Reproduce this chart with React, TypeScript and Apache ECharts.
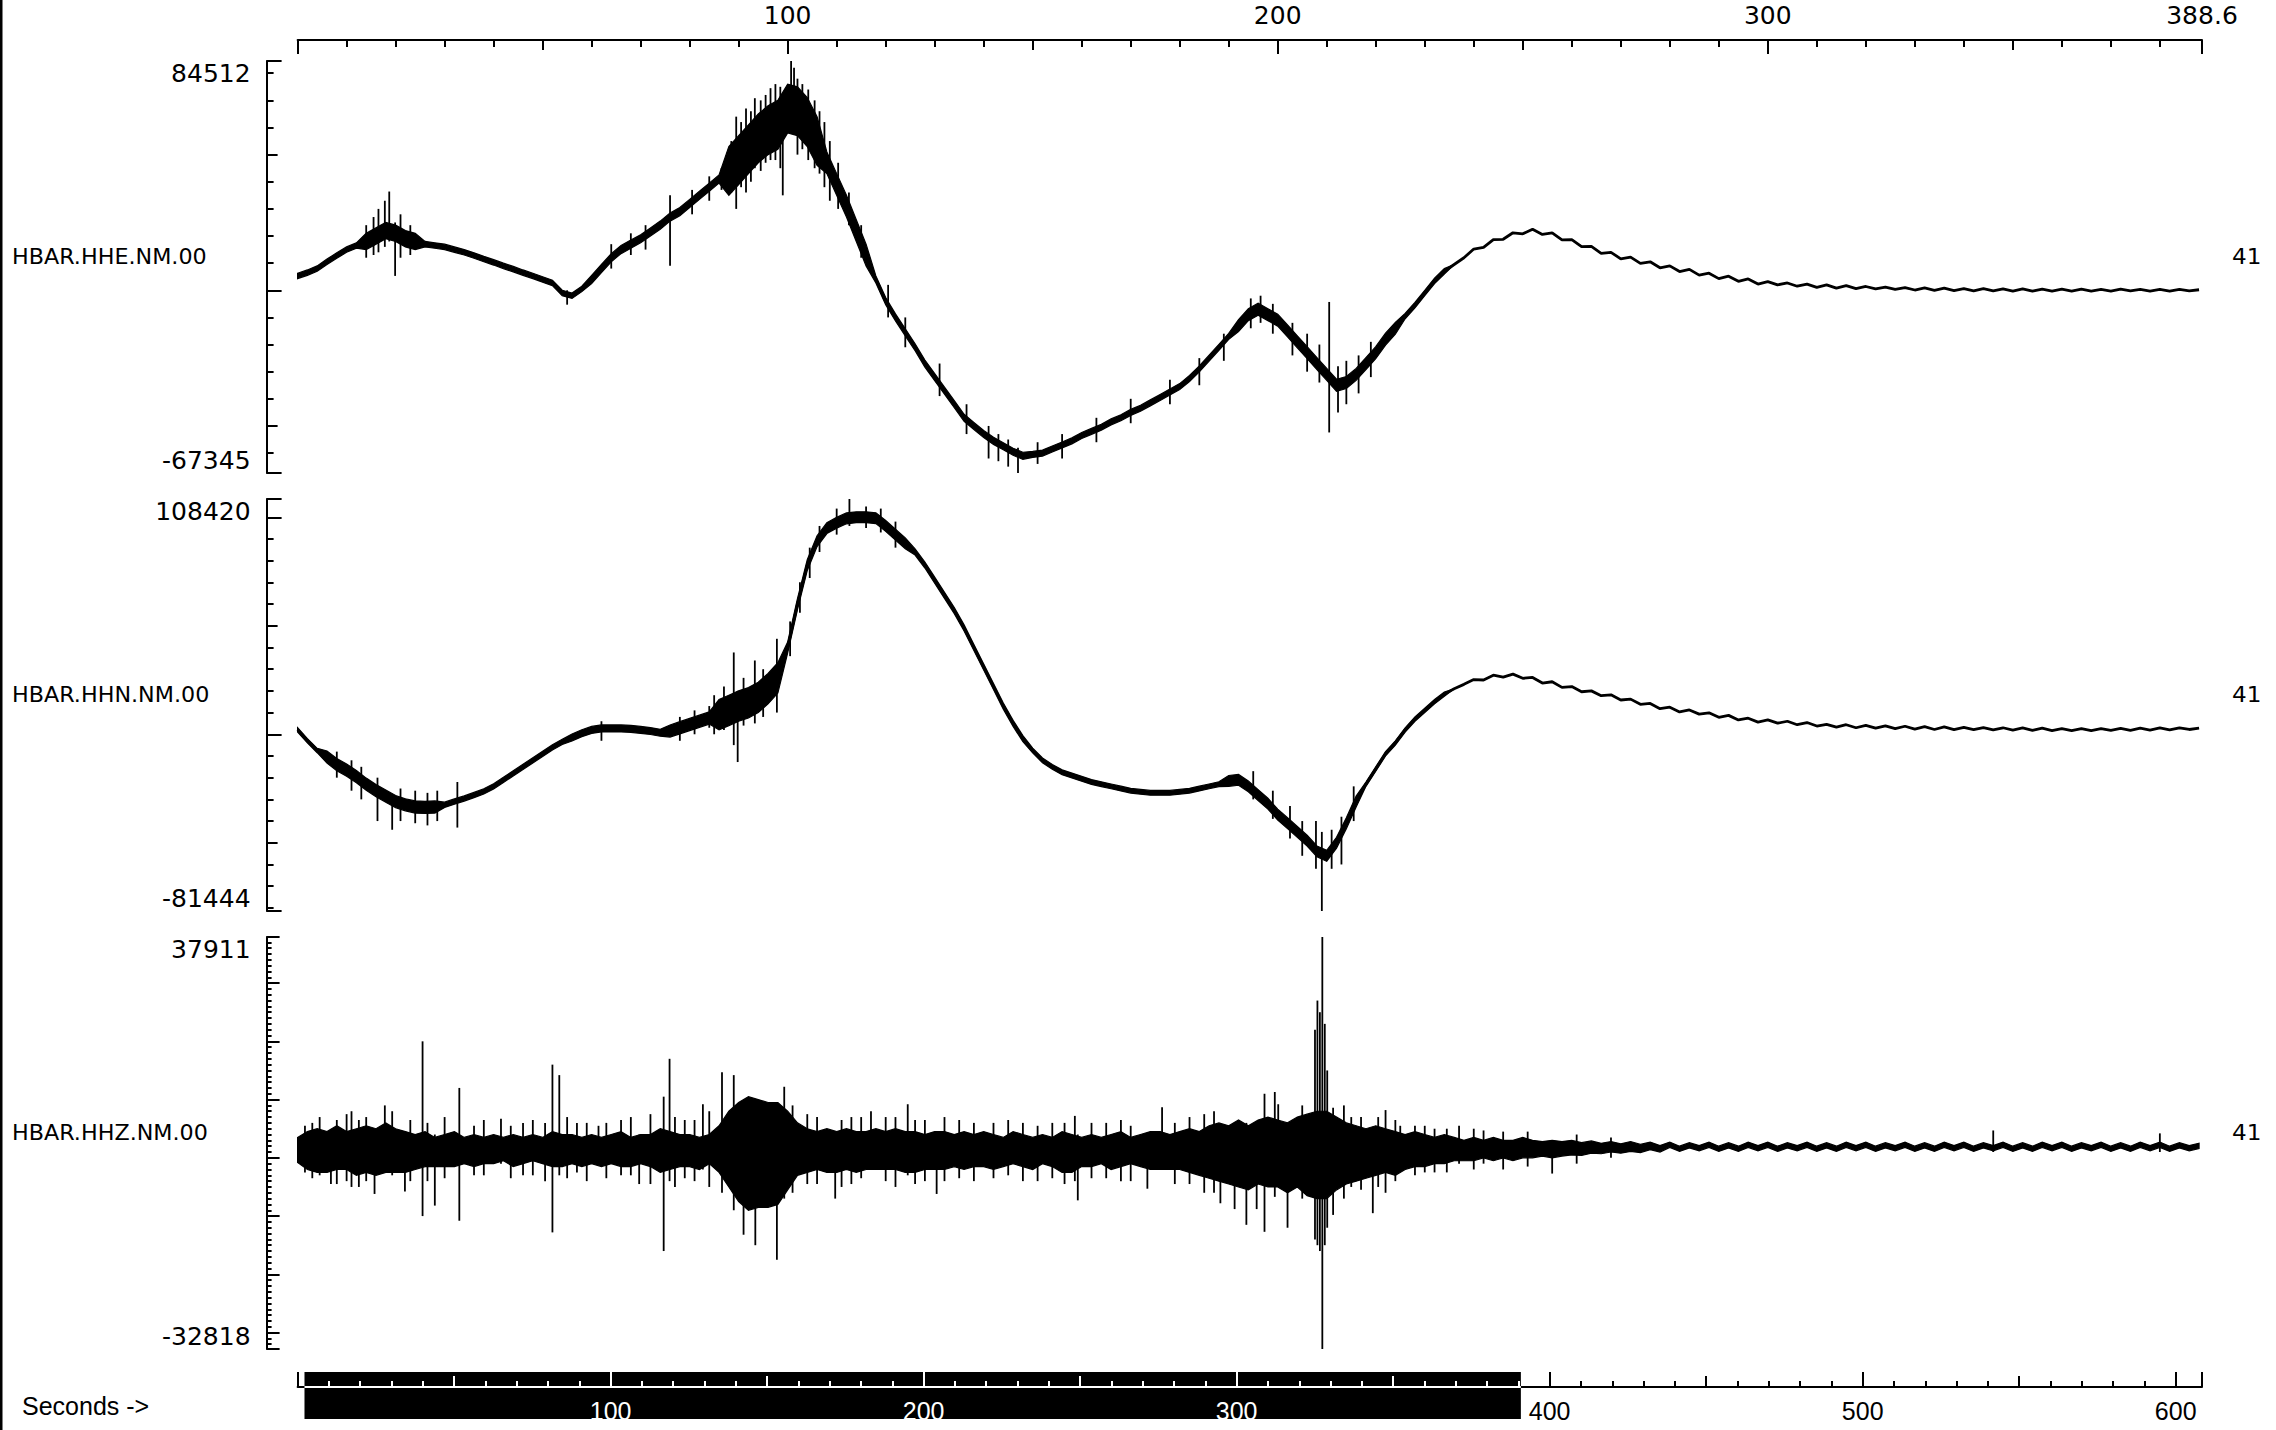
import React, { useEffect, useRef } from "react";
import * as echarts from "echarts";

// ---------------- data ----------------
const CHANNEL_NAMES = ["HBAR.HHE.NM.00", "HBAR.HHN.NM.00", "HBAR.HHZ.NM.00"];
const CHANNEL_TAGS = ["41", "41", "41"];
const PANEL_MAX = [84512, 108420, 37911];
const PANEL_MIN = [-67345, -81444, -32818];
const WINDOW_LENGTH_S = 388.6;
const RECORD_LENGTH_S = 608.4;
const WINDOW_START_S = 2.2;
const WINDOW_END_S = 390.8;
const TOP_AXIS_LABELS = [100, 200, 300, 388.6];
const SECONDS_LABELS_IN_WINDOW = [100, 200, 300];
const SECONDS_LABELS_OUTSIDE = [400, 500, 600];
const SECONDS_TITLE = "Seconds ->";
const SAMPLE_STEP_S = 2; // traces below are read every 2 s, 0 .. 388 s
const COUNTS_PER_UNIT = 1000; // trace values are in thousands of counts

// HHE trace centre line
const hheMid = [
  5.3, 6.5, 8, 10.5, 12.8, 15, 16.5, 18, 20, 22,
  21, 19, 18, 17, 16.5, 16, 15, 14, 12.8, 11.5,
  10.3, 9, 7.8, 6.5, 5.3, 4, 2.7, -1, -2, 0.5,
  4, 8, 12, 15, 17, 19, 21.5, 24, 27, 29,
  32, 35, 38, 41, 44, 48, 52, 56, 59, 61,
  67, 66, 62, 55, 47, 39, 31, 22, 13, 4,
  -4, -10, -15.5, -21, -27, -32, -37, -42, -47, -50,
  -53, -55.5, -57.5, -59.5, -61, -60.5, -60, -58.5, -57, -55.5,
  -53.5, -52, -50.5, -48.5, -47, -45, -43.5, -41.5, -39.5, -37.5,
  -35.5, -32.5, -29, -25, -21, -17, -13, -9, -7, -9,
  -11, -15, -19, -23, -27, -31, -35, -34, -31, -27,
  -23, -18, -14, -9.5, -5.5, -1, 3.5, 7, 9.5, 12,
  15.2, 15.8, 18.7, 18.8, 21.2, 20.8, 22.5, 20.6, 21.2, 18.6,
  18.7, 16.1, 16.2, 13.6, 14, 11.6, 12.2, 9.9, 10.5, 8.3,
  9, 6.9, 7.7, 5.6, 6.3, 4.3, 5.2, 3.3, 4.2, 2.3,
  3.2, 2, 2.7, 1.5, 2.3, 1.1, 2, 0.8, 1.7, 0.6,
  1.4, 0.5, 1.2, 0.3, 1, 0.1, 0.9, 0, 0.8, -0.1,
  0.6, -0.2, 0.6, -0.2, 0.5, -0.3, 0.5, -0.3, 0.4, -0.3,
  0.4, -0.3, 0.4, -0.3, 0.3, -0.3, 0.4, -0.2, 0.3, -0.3,
  0.3, -0.3, 0.3, -0.2, 0.2,
];
// HHE noise half-width per time span [start s, end s, half-width]
const hheNoise = [
  [0, 13, 1], [13, 25, 3], [25, 60, 1], [60, 88, 1.5], [88, 108, 9],
  [108, 118, 4], [118, 150, 1.3], [150, 192, 1.1], [192, 226, 2.2], [226, 236, 1], [236, 390, 0],
];
// HHE isolated spikes [s, top, bottom]
const hheSpikes = [
  [14, 24, 12], [15.5, 27, 13], [16.5, 30, 14], [17.8, 33, 16], [18.7, 36.4, 18], [19.9, 25, 5.3],
  [21, 28, 12], [23, 24, 13], [55, 0, -5.3], [64, 17, 8], [68, 21, 13], [71, 24, 15], [76, 35, 9],
  [80.5, 37, 28], [84, 42, 33], [86.5, 45, 37], [88.5, 55, 36], [89.5, 64, 30], [90.5, 62, 38],
  [91.5, 67, 36], [92.5, 66, 40], [93.3, 70.8, 45], [94.5, 70, 44], [95.5, 72, 47], [96.5, 74.5, 48],
  [97.5, 76, 48], [98.5, 75, 45], [99, 70, 35], [100.7, 84.512, 60], [101.3, 82, 58], [102, 78, 50],
  [103, 76, 52], [104.2, 74, 48], [105.5, 70, 45], [106.5, 66, 43], [107.5, 62, 38], [108.6, 55, 33],
  [110.3, 47, 30], [112.5, 36, 24], [115, 24, 12], [120.5, 2, -10], [124, -10, -21], [131, -27, -39],
  [136.5, -42, -53], [141, -50, -62], [143, -53, -63], [145, -55, -65], [147, -58, -67.345], [151, -56, -64],
  [156, -53, -62], [163, -47, -56], [170, -40, -49], [178, -33, -42], [184, -25, -35], [189, -16, -26],
  [194.5, -3, -14], [196.5, -2, -12], [199, -5, -16], [203, -12, -24], [206, -16, -30], [208.5, -20, -34],
  [210.5, -4.3, -52.4], [212.3, -28, -45], [214, -26, -42], [216.5, -24, -38], [219, -19, -32],
];

// HHN trace centre line
const hhnMid = [
  2, -3, -7.5, -10.5, -14, -16.5, -19.5, -23, -26, -28.5,
  -31, -32.5, -33.5, -33.7, -33.5, -32.5, -31, -29.6, -28, -26.3,
  -24, -21, -18, -15, -12, -9, -6, -3.5, -1.5, 0.5,
  2, 2.7, 2.7, 2.7, 2.5, 2, 1.5, 0.7, 1.5, 3,
  4.5, 6, 7.5, 9, 11, 13, 14.5, 17, 21, 26,
  40, 60, 78, 89, 95, 97.5, 99.5, 100, 100, 99.6,
  96, 92, 88, 84, 78, 71, 64, 57, 49, 40,
  31, 22, 13, 5, -2, -7.5, -12, -15, -17.5, -19,
  -20.5, -22, -23, -24, -25, -26, -26.5, -27, -27, -27,
  -26.5, -26, -25, -24, -23, -21.5, -21, -24, -28, -32,
  -37, -41, -45, -49, -54, -56, -50, -41, -31, -23,
  -16, -9, -4, 2, 7, 11, 15, 18.5, 21, 23,
  25.2, 25, 27.2, 26.3, 27.7, 25.8, 26.2, 23.6, 24.2, 21.6,
  22, 19.6, 20, 17.8, 18.2, 15.8, 16.2, 13.8, 14.2, 11.8,
  12.5, 10.3, 11.2, 9.3, 9.9, 7.8, 8.7, 6.6, 7.4, 5.6,
  6.6, 5.1, 6, 4.4, 5.4, 3.8, 4.6, 3.3, 4.4, 3,
  4.1, 2.8, 3.9, 2.6, 3.7, 2.4, 3.5, 2.2, 3.4, 2.1,
  3.2, 2.1, 3.1, 2, 3, 1.9, 2.9, 1.8, 2.8, 1.7,
  2.6, 1.7, 2.6, 1.7, 2.6, 1.8, 2.7, 1.8, 2.8, 1.9,
  2.9, 2, 3, 2.2, 2.8,
];
const hhnNoise = [
  [0, 6, 1], [6, 30, 2.8], [30, 56, 1.2], [56, 76, 1.6], [76, 86, 2.8], [86, 100, 7],
  [100, 126, 2.5], [126, 150, 1.4], [150, 190, 1.1], [190, 218, 2.5], [218, 236, 1], [236, 390, 0],
];
const hhnSpikes = [
  [8, -8, -20], [11, -12, -26], [13, -15, -30], [16.3, -20, -40], [19.3, -28, -44], [21, -25, -40],
  [24, -26, -41], [26.5, -27, -42], [28.5, -26, -40], [32.6, -22, -43], [62, 6, -3],
  [78, 8, -3], [81, 11, 0], [84, 13, 3], [85, 18, 0], [87, 22, 2], [89, 37.7, -5], [89.8, 20, -12.8],
  [91, 26, 4], [93.3, 34, 5], [95, 30, 8], [97.8, 44, 10], [100.5, 52, 36], [102.5, 70, 56],
  [104.5, 86, 72], [106.5, 96, 84], [110, 104, 92], [112.6, 108.42, 96], [116, 105, 95], [119, 104, 93],
  [122, 98, 86], [195, -17, -30], [199, -26, -39], [202.5, -33, -48], [205, -40, -56], [207.8, -40, -62],
  [209, -45, -81.444], [211, -44, -62], [213, -38, -60], [215.5, -24, -40],
];

// HHZ envelope (upper / lower), every 2 s
const hhzUpper = [
  3.5, 4.5, 5, 4.5, 5.5, 4.5, 5, 5.5, 5, 6,
  5, 4.5, 4, 4.5, 3.5, 4, 4.5, 3.5, 4, 3.5,
  4, 3.5, 4, 3.5, 4, 3.5, 4.5, 4, 4, 3.5,
  4, 3.5, 4, 4.5, 3.5, 4, 4, 5, 4.5, 4,
  4, 3.5, 4, 5.5, 8, 9.5, 10.5, 10, 9.5, 9.5,
  8, 6, 5, 4.5, 5, 4.5, 5, 4.5, 4.5, 5,
  4.5, 5, 4.5, 4.5, 4, 4.5, 4.5, 4, 4.5, 4,
  4.5, 4, 3.5, 4.5, 4, 3.5, 4, 3.5, 4.5, 4,
  3.5, 4, 3.5, 4, 4.5, 3.5, 4, 4.5, 4.5, 4,
  4.5, 5, 4.5, 5.5, 6, 5.5, 6.5, 5.5, 6.5, 7,
  6.5, 6, 7, 7.5, 8, 8, 7, 6, 5.5, 5,
  5.5, 5, 4.5, 4, 4.5, 4, 3.5, 4, 3.5, 3,
  3.5, 3, 3.5, 3, 3, 3.5, 3, 2.8, 3, 2.8,
  3, 2.6, 2.9, 2.5, 2.8, 2.4, 2.8, 2.3, 2.7, 2.1,
  2.7, 2, 2.6, 2.1, 2.7, 2, 2.6, 2, 2.7, 2.1,
  2.7, 2, 2.6, 2.1, 2.7, 2, 2.6, 2, 2.7, 2.1,
  2.7, 2, 2.6, 2.1, 2.7, 2, 2.6, 2, 2.7, 2.1,
  2.7, 2, 2.6, 2.1, 2.7, 2, 2.6, 2, 2.7, 2.1,
  2.7, 2, 2.6, 2.1, 2.7, 2, 2.6, 2, 2.7, 2.1,
  2.7, 2, 2.6, 2.1, 2.5,
];
const hhzLower = [
  -0.8, -2, -2.5, -2.5, -2, -2, -3, -2.5, -3, -2.5,
  -2.5, -2.5, -2, -1.5, -1.5, -1.5, -1.5, -1, -1.5, -1,
  -1, -0.5, -1.5, -1, -0.5, -1, -1.5, -1.5, -1, -1.5,
  -1, -1.5, -1, -1.5, -1.5, -1, -1.5, -2.5, -2, -1.5,
  -1.5, -2, -1, -2.5, -5, -7.5, -9, -8.5, -8.5, -8,
  -5.5, -3, -2.5, -2, -2.5, -2.5, -2, -2.5, -2, -2,
  -2, -2, -2.5, -2.5, -2, -2, -2, -1.5, -2, -1.5,
  -1.5, -2, -1.5, -1, -1.5, -2, -1, -1.5, -2.5, -2.5,
  -1.5, -1.5, -1, -2, -1.5, -1, -1.5, -2, -2, -2,
  -2, -2.5, -3, -3.5, -4, -4.5, -5, -5.5, -4.5, -5,
  -5, -6, -5, -6.5, -7, -7, -5.5, -4.5, -4, -3.5,
  -3, -2.5, -3, -2, -1.5, -1.5, -1, -1, -0.5, -0.5,
  -0.5, 0, -0.5, 0, -0.5, 0, 0, 0.3, 0, 0.3,
  0.5, 0.4, 0.8, 0.7, 1, 0.8, 1.1, 0.9, 1.4, 1,
  1.8, 1.1, 1.7, 1.2, 1.8, 1.1, 1.7, 1.1, 1.8, 1.2,
  1.8, 1.1, 1.7, 1.2, 1.8, 1.1, 1.7, 1.1, 1.8, 1.2,
  1.8, 1.1, 1.7, 1.2, 1.8, 1.1, 1.7, 1.1, 1.8, 1.2,
  1.8, 1.1, 1.7, 1.2, 1.8, 1.1, 1.7, 1.1, 1.8, 1.2,
  1.8, 1.1, 1.7, 1.2, 1.8, 1.1, 1.7, 1.1, 1.8, 1.2,
  1.8, 1.1, 1.7, 1.2, 1.6,
];
const hhzSpikes = [
  [1.5, 5.5, -2.5], [3, 6, -3.5], [4.5, 7, -3], [6.8, 3, -4.5], [8, 6.5, -4.5], [10, 7.5, -4],
  [11, 8, -5], [12.5, 6.5, -5], [14, 7, -4], [15.7, 5, -6.2], [17.8, 9, -2], [19.3, 8, -3],
  [21.9, 4, -5.8], [23, 6.5, -4], [25.5, 20, -10], [26.5, 6, -4], [28, 4, -8.2], [30, 7, -3.5],
  [33, 12, -10.8], [36, 5.5, -3], [38, 6.5, -3], [41.5, 6.7, -1], [43.5, 5.5, -3.5], [46, 6, -3],
  [48, 6.5, -3], [50.5, 6, -4], [52, 16, -12.8], [53.4, 14.2, -3], [55, 7, -3.5], [57, 6, -2.5],
  [59, 6, -4], [61.4, 5.5, -1], [63, 6, -3.5], [66, 6.5, -3], [68, 7, -3], [69.7, 4, -4.5],
  [72, 7.5, -4.5], [74.7, 10.5, -16], [75.9, 17, -4], [77, 7, -5], [79, 6.5, -3.5], [81, 6.5, -4],
  [82.7, 9.2, -2], [84, 8, -5], [86.6, 14.7, -6], [89, 14.2, -9], [91, 8, -13.2], [93.4, 10, -15],
  [97.8, 8, -17.5], [99.3, 12.2, -7], [101, 9, -6], [104, 7.5, -4.5], [106, 7, -4.5], [109.7, 4, -7],
  [111, 6.5, -5], [113, 7, -4.5], [115, 7, -3.5], [117, 8, -2], [120, 7, -4], [122, 7, -5],
  [124.5, 9.2, -3], [126, 6.5, -4.5], [128, 6.5, -4], [130.4, 4, -6.2], [132, 7, -4], [135, 6.5, -3.5],
  [138, 6, -4], [142, 6, -3.5], [145, 6.5, -3], [148, 6, -4], [151, 5.5, -4], [154, 6, -3.5],
  [156.5, 6, -4.5], [158.6, 7.2, -4], [159.2, 4, -7.3], [162, 6, -3.5], [165, 6, -3.5], [168, 6.5, -4],
  [170, 5.5, -4], [173.4, 4, -5.3], [176.4, 8.7, -2], [179, 6, -4.5], [182, 7, -4.5], [185, 7.5, -6],
  [187, 8, -6], [188.3, 5, -7.8], [191.2, 6, -8.8], [193.6, 6, -11.5], [195.7, 6, -8.8],
  [197.3, 11, -12.7], [199.4, 11.3, -6.7], [200.1, 9.2, -4], [202, 6, -12], [205, 9, -7],
  [207.6, 22, -14], [208.1, 27, -15], [208.6, 25, -16], [209.1, 37.911, -32.818], [209.6, 23, -15],
  [210.1, 15, -12], [211.3, 8.6, -9.8], [213.5, 9, -7], [215, 7, -5], [217, 7, -5.5], [219.4, 4, -9.5],
  [220.5, 7, -5], [222, 8.2, -6], [224, 6.5, -4], [225, 5.5, -2], [228, 5.5, -3], [230, 5.5, -2.5],
  [232, 5, -2.5], [234.5, 5, -2.5], [237, 5.5, -1], [240, 5, -2], [242, 4.7, -1], [246, 4.5, -2],
  [251, 4.5, -1.5], [256, 3, -2.7], [261, 4, -1], [268, 3.5, 0], [346, 4.7, 1], [380, 4.2, 1],
];

// ---------------- layout / style ----------------
const W = 2276;
const H = 1430;
const PLOT_LEFT = 297.6;
const PLOT_WIDTH = 1904.4;
const PANEL_TOPS = [61, 499, 937];
const PANEL_HEIGHT = 412;
const Y_AXIS_OFFSET = 31;
const TOP_AXIS_OFFSET = 21;
const SEC_GRID_TOP = 1372;
const SEC_GRID_HEIGHT = 15;
const BAR_DEPTH = 47;
const NUM_FONT = "DejaVu Sans";
const SEC_FONT = "Liberation Sans";

const multiples = (min: number, max: number, step: number) => {
  const out: number[] = [];
  for (let v = Math.ceil(min / step) * step; v <= max + 1e-9; v += step) out.push(Math.round(v * 1000) / 1000);
  return out;
};
const notMultipleOf = (list: number[], step: number) =>
  list.filter((v) => Math.abs(v / step - Math.round(v / step)) > 1e-6);

const spreadAt = (t: number, segs: number[][]) => {
  for (const [a, b, h] of segs) if (t >= a && t < b) return h;
  return 0;
};

function buildTrace(mid: number[], segs: number[][]) {
  const upper: number[][] = [];
  const lower: number[][] = [];
  const line: number[][] = [];
  mid.forEach((v, i) => {
    const t = i * SAMPLE_STEP_S;
    const h = spreadAt(t, segs);
    line.push([t, v * COUNTS_PER_UNIT]);
    upper.push([t, (v + h) * COUNTS_PER_UNIT]);
    lower.push([t, (v - h) * COUNTS_PER_UNIT]);
  });
  return { line, upper, lower };
}

function bandSeries(xi: number, yi: number, upper: number[][], lower: number[][]) {
  return {
    type: "custom",
    xAxisIndex: xi,
    yAxisIndex: yi,
    silent: true,
    z: 3,
    data: [[upper[0][0], upper[0][1]]],
    renderItem: (_p: any, api: any) => {
      const pts: number[][] = [];
      for (let i = 0; i < upper.length; i++) pts.push(api.coord(upper[i]));
      for (let i = lower.length - 1; i >= 0; i--) pts.push(api.coord(lower[i]));
      return { type: "polygon", shape: { points: pts }, style: { fill: "#000", stroke: "#000", lineWidth: 1.2 } };
    },
  };
}

function spikeSeries(xi: number, yi: number, spikes: number[][]) {
  return {
    type: "custom",
    xAxisIndex: xi,
    yAxisIndex: yi,
    silent: true,
    z: 4,
    encode: { x: 0, y: [1, 2] },
    data: spikes.map(([t, a, b]) => [t, a * COUNTS_PER_UNIT, b * COUNTS_PER_UNIT]),
    renderItem: (_p: any, api: any) => {
      const t = api.value(0);
      const p1 = api.coord([t, api.value(1)]);
      const p2 = api.coord([t, api.value(2)]);
      return { type: "line", shape: { x1: p1[0], y1: p1[1], x2: p2[0], y2: p2[1] }, style: { stroke: "#000", lineWidth: 1.8 } };
    },
  };
}

function lineSeries(xi: number, yi: number, data: number[][]) {
  return {
    type: "line",
    xAxisIndex: xi,
    yAxisIndex: yi,
    data,
    symbol: "none",
    silent: true,
    z: 4,
    lineStyle: { color: "#000", width: 2.8 },
  };
}

function xAx(o: any) {
  return {
    type: "value",
    gridIndex: o.grid,
    min: o.min,
    max: o.max,
    position: o.position,
    offset: o.offset || 0,
    z: o.z || 0,
    show: o.show !== false,
    splitLine: { show: false },
    axisLine: { show: !!o.line, onZero: false, lineStyle: { color: o.color, width: 2 } },
    axisTick: o.ticks
      ? { show: true, inside: true, length: o.len, customValues: o.ticks, lineStyle: { color: o.color, width: 2 } }
      : { show: false },
    axisLabel: o.labels
      ? {
          show: true,
          customValues: o.labels,
          color: o.color,
          fontSize: o.fontSize || 24,
          fontFamily: o.font,
          margin: o.margin,
          showMinLabel: true,
          showMaxLabel: true,
          formatter: (v: number) => String(v),
        }
      : { show: false },
  };
}

function yAx(o: any) {
  return {
    type: "value",
    gridIndex: o.grid,
    min: o.min,
    max: o.max,
    position: "left",
    offset: Y_AXIS_OFFSET,
    splitLine: { show: false },
    axisLine: { show: !!o.line, onZero: false, lineStyle: { color: "#000", width: 2 } },
    axisTick: o.ticks && o.ticks.length
      ? { show: true, inside: true, length: o.len, customValues: o.ticks, lineStyle: { color: "#000", width: 2 } }
      : { show: false },
    axisLabel: o.labels
      ? {
          show: true,
          customValues: o.labels,
          color: "#000",
          fontSize: 25,
          fontFamily: NUM_FONT,
          margin: 16,
          verticalAlign: o.valign,
          showMinLabel: true,
          showMaxLabel: true,
          formatter: (v: number) => String(Math.round(v)),
        }
      : { show: false },
  };
}

const PANEL_TICK_STEPS = [
  [10000, 50000, 100000],
  [10000, 50000, 100000],
  [1000, 0, 10000],
];
const PANEL_TICK_LENGTHS = [
  [7, 11, 15],
  [7, 11, 15],
  [5, 0, 13],
];

function buildOption() {
  const grids: any[] = PANEL_TOPS.map((top) => ({ left: PLOT_LEFT, width: PLOT_WIDTH, top, height: PANEL_HEIGHT }));
  grids.push({ left: PLOT_LEFT, width: PLOT_WIDTH, top: SEC_GRID_TOP, height: SEC_GRID_HEIGHT });

  // --- x axes ---
  const topAll = multiples(0, WINDOW_LENGTH_S, 10);
  const xAxes: any[] = [
    xAx({ grid: 0, min: 0, max: WINDOW_LENGTH_S, position: "top", offset: TOP_AXIS_OFFSET, color: "#000", line: true, ticks: notMultipleOf(topAll, 50), len: 7 }),
    xAx({ grid: 0, min: 0, max: WINDOW_LENGTH_S, position: "top", offset: TOP_AXIS_OFFSET, color: "#000", ticks: notMultipleOf(multiples(0, WINDOW_LENGTH_S, 50), 100), len: 10 }),
    xAx({ grid: 0, min: 0, max: WINDOW_LENGTH_S, position: "top", offset: TOP_AXIS_OFFSET, color: "#000", ticks: [...multiples(0, WINDOW_LENGTH_S, 100), WINDOW_LENGTH_S], len: 14, labels: TOP_AXIS_LABELS, font: NUM_FONT, margin: 12, fontSize: 25 }),
    xAx({ grid: 1, min: 0, max: WINDOW_LENGTH_S, position: "bottom", show: false, color: "#000" }),
    xAx({ grid: 2, min: 0, max: WINDOW_LENGTH_S, position: "bottom", show: false, color: "#000" }),
  ];
  const secAll = multiples(0, RECORD_LENGTH_S, 10);
  const inWin = (v: number) => v > WINDOW_START_S && v < WINDOW_END_S;
  const secMinor = notMultipleOf(secAll, 50);
  const secMedium = notMultipleOf(multiples(0, RECORD_LENGTH_S, 50), 100);
  const secMajor = [...multiples(0, RECORD_LENGTH_S, 100), RECORD_LENGTH_S];
  const secBase = { grid: 3, min: 0, max: RECORD_LENGTH_S, position: "bottom", font: SEC_FONT, margin: 11, fontSize: 25 };
  xAxes.push(
    xAx({ ...secBase, color: "#000", line: true, ticks: secMinor, len: 6 }),
    xAx({ ...secBase, color: "#000", ticks: secMedium, len: 11 }),
    xAx({ ...secBase, color: "#000", ticks: secMajor, len: 15, labels: SECONDS_LABELS_OUTSIDE }),
    xAx({ ...secBase, color: "#fff", z: 10, ticks: secMinor.filter(inWin), len: 6 }),
    xAx({ ...secBase, color: "#fff", z: 10, ticks: secMedium.filter(inWin), len: 11 }),
    xAx({ ...secBase, color: "#fff", z: 10, ticks: secMajor.filter(inWin), len: 15, labels: SECONDS_LABELS_IN_WINDOW }),
  );

  // --- y axes ---
  const yAxes: any[] = [];
  for (let p = 0; p < 3; p++) {
    const min = PANEL_MIN[p];
    const max = PANEL_MAX[p];
    const [s1, s2, s3] = PANEL_TICK_STEPS[p];
    const [l1, l2, l3] = PANEL_TICK_LENGTHS[p];
    const minor = notMultipleOf(multiples(min, max, s1), s2 || s3);
    const medium = s2 ? notMultipleOf(multiples(min, max, s2), s3) : [];
    const major = [min, ...multiples(min, max, s3), max];
    yAxes.push(
      yAx({ grid: p, min, max, line: true, ticks: minor, len: l1 }),
      yAx({ grid: p, min, max, ticks: medium, len: l2 }),
      yAx({ grid: p, min, max, ticks: major, len: l3, labels: [max], valign: "top" }),
      yAx({ grid: p, min, max, labels: [min], valign: "bottom" }),
    );
  }
  yAxes.push({ type: "value", gridIndex: 3, min: 0, max: 1, show: false });

  // --- series ---
  const hhe = buildTrace(hheMid, hheNoise);
  const hhn = buildTrace(hhnMid, hhnNoise);
  const hhzUp = hhzUpper.map((v, i) => [i * SAMPLE_STEP_S, v * COUNTS_PER_UNIT]);
  const hhzLo = hhzLower.map((v, i) => [i * SAMPLE_STEP_S, v * COUNTS_PER_UNIT]);

  const series: any[] = [
    bandSeries(0, 0, hhe.upper, hhe.lower),
    lineSeries(0, 0, hhe.line),
    spikeSeries(0, 0, hheSpikes),
    bandSeries(3, 4, hhn.upper, hhn.lower),
    lineSeries(3, 4, hhn.line),
    spikeSeries(3, 4, hhnSpikes),
    bandSeries(4, 8, hhzUp, hhzLo),
    spikeSeries(4, 8, hhzSpikes),
    {
      type: "custom",
      xAxisIndex: 5,
      yAxisIndex: 12,
      silent: true,
      z: 2,
      encode: { x: [0, 1], y: 2 },
      data: [[WINDOW_START_S, WINDOW_END_S, 0]],
      renderItem: (_p: any, api: any) => {
        const a = api.coord([api.value(0), 1]);
        const b = api.coord([api.value(1), 0]);
        return {
          type: "group",
          children: [
            { type: "rect", shape: { x: a[0], y: a[1], width: b[0] - a[0], height: BAR_DEPTH }, style: { fill: "#000" } },
            { type: "line", shape: { x1: a[0], y1: b[1], x2: b[0], y2: b[1] }, style: { stroke: "#fff", lineWidth: 2 } },
          ],
        };
      },
    },
  ];

  // --- texts ---
  const graphic: any[] = [
    { type: "rect", shape: { x: 0, y: 0, width: 2.5, height: H }, style: { fill: "#000" } },
    {
      type: "text",
      x: 22,
      y: 1406,
      style: { text: SECONDS_TITLE, fontSize: 25, fontFamily: SEC_FONT, fill: "#000", verticalAlign: "middle" },
    },
  ];
  CHANNEL_NAMES.forEach((name, i) => {
    graphic.push({
      type: "text",
      x: 12,
      y: PANEL_TOPS[i] + 196,
      scaleX: 1.06,
      style: { text: name, fontSize: 21, fontFamily: NUM_FONT, fill: "#000", verticalAlign: "middle" },
    });
    graphic.push({
      type: "text",
      x: 2232,
      y: PANEL_TOPS[i] + 196,
      scaleX: 1.1,
      style: { text: CHANNEL_TAGS[i], fontSize: 21, fontFamily: NUM_FONT, fill: "#000", verticalAlign: "middle" },
    });
  });

  return {
    animation: false,
    backgroundColor: "#fff",
    textStyle: { fontFamily: NUM_FONT },
    grid: grids,
    xAxis: xAxes,
    yAxis: yAxes,
    series,
    graphic,
  };
}

export default function App() {
  const ref = useRef<HTMLDivElement>(null);
  useEffect(() => {
    if (!ref.current) return;
    const chart = echarts.init(ref.current, null, { renderer: "svg", width: W, height: H });
    chart.setOption(buildOption() as any);
    return () => chart.dispose();
  }, []);
  return (
    <div
      ref={ref}
      style={{ position: "fixed", left: 0, top: 0, width: W, height: H, background: "#fff" }}
    />
  );
}
